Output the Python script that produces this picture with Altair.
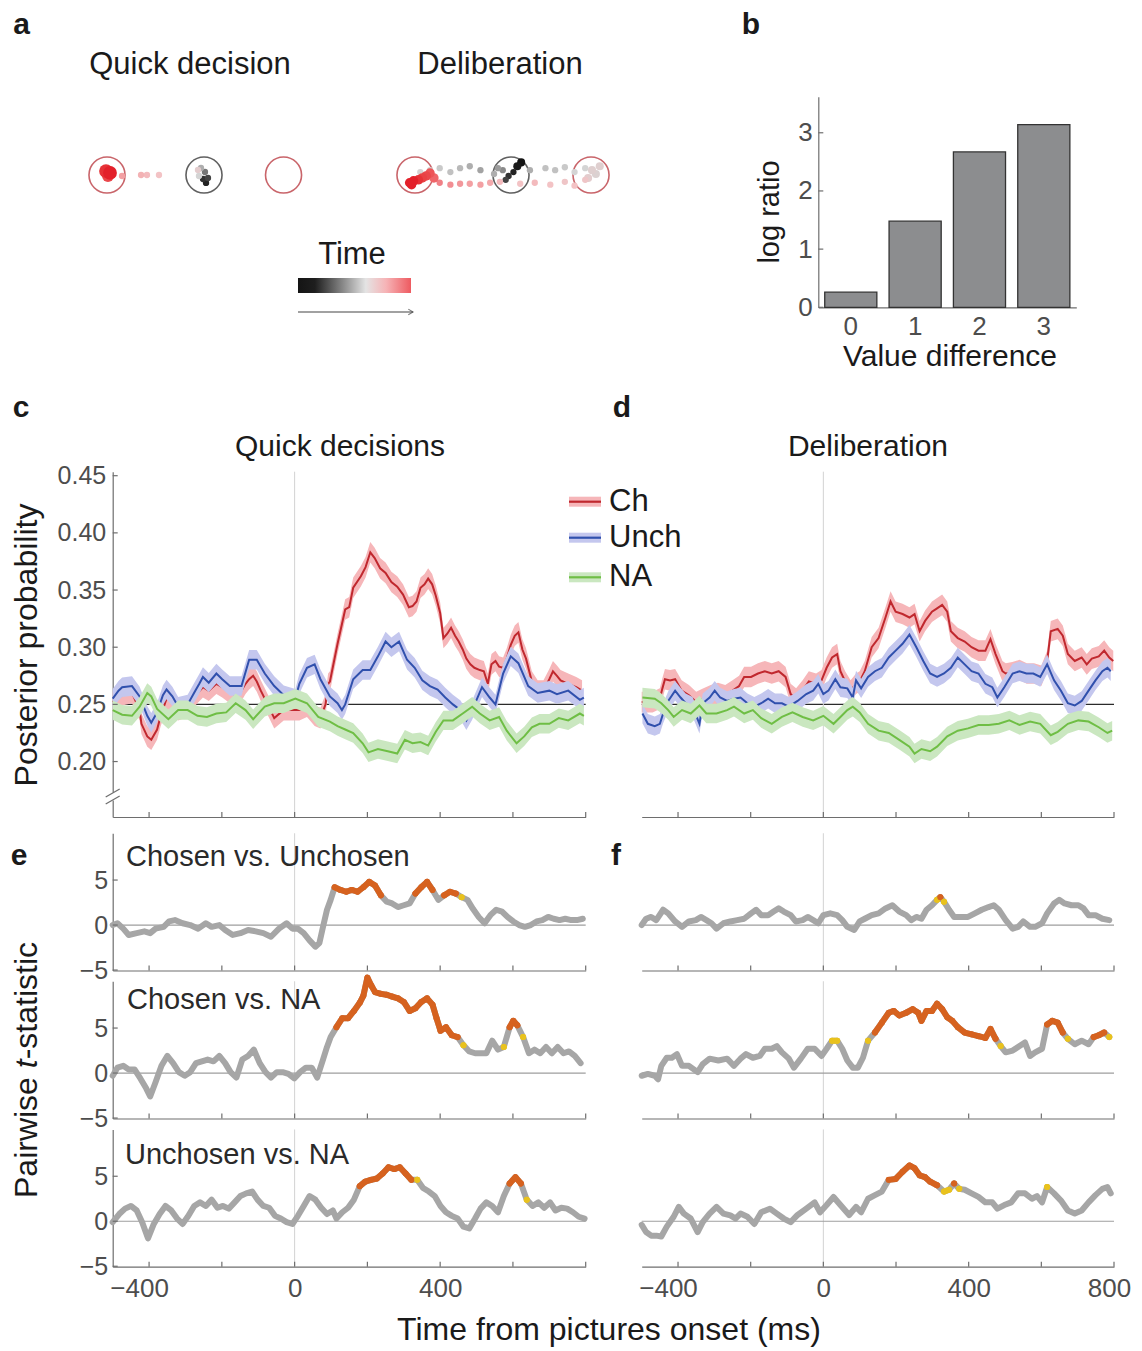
import altair as alt
import pandas as pd

FONT = "Liberation Sans"
INK = "#1a1a1a"
LBL = "#4d4d4d"
DOM = "#6e6e6e"

# ------------------------------------------------------------------ panel a (gaze traces)
target_u = [0.0, 1.0, 1.82, 3.175, 4.165, 4.99]
target_v = [0.0, 0.0, 0.0, 0.0, 0.0, 0.0]
target_kind = ["option", "fixation", "option", "option", "fixation", "option"]

gaze_u = [0.948, 0.969, 1.010, 1.041, 1.021, 0.990, 0.938, 0.536, 0.412, 0.351, 0.155, 0.031, -0.010, 0.010,
          4.19, 4.23, 4.27, 4.14, 4.11, 4.08, 4.03, 3.99,
          4.36, 4.52, 4.62, 4.72, 4.82, 4.93, 5.00, 5.04, 5.08, 4.96,
          3.85, 3.74, 3.64, 3.54, 3.43, 3.33, 3.23,
          3.43, 3.54, 3.64, 3.74, 3.85, 3.95, 4.05, 4.26, 4.41, 4.57, 4.72, 4.82, 4.93,
          3.12, 3.16, 3.21, 3.25, 3.29, 3.33, 3.37, 3.14]
gaze_v = [-0.010, 0.072, 0.031, -0.031, -0.082, -0.041, 0.052, 0.0, 0.0, 0.0, -0.010, 0.021, 0.041, -0.010,
          0.03, 0.09, 0.13, -0.01, -0.05, 0.05, 0.07, 0.01,
          0.05, 0.07, 0.05, 0.08, 0.03, 0.07, 0.05, 0.01, 0.09, -0.03,
          0.05, 0.09, 0.07, 0.03, 0.07, 0.05, 0.03,
          -0.08, -0.10, -0.09, -0.09, -0.10, -0.08, -0.07, -0.09, -0.08, -0.10, -0.07, -0.11, -0.05,
          -0.08, -0.06, -0.05, -0.03, -0.01, 0.02, -0.03, -0.10]
gaze_time = [0.55, 0.45, 0.3, 0.15, 0.05, 0.1, 0.62, 0.7, 0.72, 0.74, 0.78, 1.0, 0.98, 0.95,
             0.05, 0.02, 0.0, 0.1, 0.15, 0.35, 0.4, 0.45,
             0.45, 0.5, 0.5, 0.52, 0.55, 0.55, 0.6, 0.58, 0.6, 0.62,
             0.42, 0.45, 0.48, 0.5, 0.52, 0.55, 0.56,
             0.85, 0.82, 0.8, 0.78, 0.78, 0.76, 0.72, 0.7, 0.72, 0.7, 0.68, 0.7, 0.68,
             1.0, 1.0, 0.98, 0.96, 0.95, 0.93, 0.9, 1.0]
gaze_dwell = [1, 1, 1, 1, 1, 1, 1, 1, 1, 1, 1, 4, 4, 3,
              1, 1.5, 1.5, 1, 1, 1, 1, 1,
              1, 1, 1, 1, 1, 1, 1.5, 1.5, 1.5, 1.5,
              1, 1, 1, 1, 1, 1, 1,
              1, 1, 1, 1, 1, 1, 1, 1, 1, 1, 1, 1, 1,
              2, 2, 2, 2, 2, 2, 2, 2]
time_bar_u = [1.969, 3.134]
time_bar_v = [-1.062, -1.216]
time_arrow_u = [1.969, 3.155]
time_arrow_v = -1.412

# ------------------------------------------------------------------ panel b
b_value_diff = ["0", "1", "2", "3"]
b_log_ratio = [0.26, 1.48, 2.67, 3.14]

# ------------------------------------------------------------------ panel c (quick decisions)
c_ch_t = [-500, -474, -447, -426, -421, -405, -394, -378, -368, -352, -336, -320, -294, -273, -252, -236, -215, -199,
          -178, -162, -146, -135, -125, -114, -104, -93, -82, -56, -30, 2, 13, 34, 55, 71, 85, 92, 97, 118, 139, 150,
          161, 182, 195, 208, 220, 235, 250, 266, 282, 298, 314, 324, 335, 346, 357, 367, 378, 388, 400, 409, 420,
          430, 441, 451, 462, 472, 483, 494, 509, 520, 531, 541, 552, 562, 573, 583, 594, 605, 615, 626, 636, 652,
          668, 684, 700, 710, 721, 731, 752, 774, 790]
c_ch_v = [0.252, 0.258, 0.26, 0.245, 0.233, 0.222, 0.219, 0.228, 0.24, 0.255, 0.253, 0.245, 0.248, 0.258, 0.265,
          0.262, 0.268, 0.265, 0.26, 0.258, 0.262, 0.268, 0.272, 0.275, 0.27, 0.262, 0.255, 0.238, 0.245, 0.245,
          0.245, 0.248, 0.24, 0.238, 0.25, 0.268, 0.27, 0.303, 0.333, 0.335, 0.352, 0.362, 0.37, 0.383, 0.378,
          0.369, 0.365, 0.357, 0.353, 0.346, 0.335, 0.336, 0.34, 0.352, 0.355, 0.36, 0.355, 0.345, 0.33, 0.308,
          0.312, 0.317, 0.31, 0.305, 0.298, 0.29, 0.285, 0.282, 0.28, 0.279, 0.268, 0.285, 0.288, 0.283, 0.282,
          0.29, 0.302, 0.31, 0.313, 0.298, 0.29, 0.27, 0.262, 0.262, 0.272, 0.279, 0.275, 0.271, 0.268, 0.265, 0.262]
c_un_t = [-500, -484, -474, -447, -426, -405, -394, -378, -362, -352, -336, -320, -294, -273, -262, -252, -236, -215,
          -199, -178, -146, -125, -104, -82, -56, -30, 2, 13, 34, 55, 71, 97, 118, 130, 139, 161, 187, 208, 229, 250,
          266, 287, 309, 330, 351, 372, 393, 414, 435, 456, 472, 488, 515, 536, 552, 573, 594, 615, 642, 668, 700,
          721, 752, 784, 795]
c_un_v = [0.255, 0.262, 0.265, 0.266, 0.257, 0.24, 0.234, 0.243, 0.258, 0.263, 0.257, 0.248, 0.25, 0.262, 0.268,
          0.274, 0.269, 0.277, 0.272, 0.266, 0.266, 0.289, 0.289, 0.277, 0.266, 0.258, 0.255, 0.268, 0.282, 0.285,
          0.272, 0.257, 0.251, 0.245, 0.25, 0.272, 0.28, 0.28, 0.292, 0.305, 0.3, 0.305, 0.289, 0.282, 0.271, 0.266,
          0.263, 0.256, 0.25, 0.245, 0.236, 0.245, 0.265, 0.256, 0.25, 0.277, 0.292, 0.286, 0.266, 0.26, 0.262,
          0.259, 0.262, 0.254, 0.256]
c_na_t = [-500, -474, -447, -426, -405, -394, -378, -347, -320, -294, -267, -241, -215, -188, -162, -135, -114, -82,
          -56, -30, 2, 34, 65, 97, 118, 139, 161, 187, 203, 229, 256, 282, 303, 324, 346, 367, 388, 409, 435, 462,
          488, 509, 536, 562, 583, 610, 631, 652, 673, 700, 726, 752, 784, 795]
c_na_v = [0.245, 0.241, 0.240, 0.248, 0.26, 0.257, 0.246, 0.237, 0.245, 0.245, 0.24, 0.239, 0.242, 0.243, 0.251,
          0.245, 0.237, 0.248, 0.251, 0.251, 0.255, 0.251, 0.239, 0.235, 0.231, 0.228, 0.225, 0.216, 0.208, 0.211,
          0.209, 0.207, 0.219, 0.216, 0.217, 0.214, 0.226, 0.236, 0.236, 0.242, 0.248, 0.242, 0.236, 0.239, 0.227,
          0.216, 0.222, 0.23, 0.233, 0.233, 0.238, 0.236, 0.242, 0.24]

# ------------------------------------------------------------------ panel d (deliberation)
d_ch_t = [-500, -470, -450, -443, -436, -422, -408, -390, -370, -350, -330, -310, -290, -270, -250, -232, -218, -199,
          -180, -161, -142, -123, -104, -90, -75, -57, -40, -20, -5, 9, 24, 38, 47, 60, 75, 90, 100, 114, 133, 152,
          171, 185, 199, 218, 237, 251, 265, 280, 299, 313, 327, 341, 351, 370, 389, 408, 427, 446, 460, 474, 493,
          502, 520, 540, 560, 580, 600, 616, 626, 645, 659, 673, 692, 711, 725, 739, 758, 773, 787, 798]
d_ch_v = [0.252, 0.252, 0.255, 0.264, 0.272, 0.271, 0.272, 0.262, 0.258, 0.252, 0.255, 0.258, 0.26, 0.258, 0.262,
          0.266, 0.274, 0.274, 0.277, 0.279, 0.277, 0.279, 0.274, 0.259, 0.255, 0.262, 0.27, 0.268, 0.271, 0.282,
          0.291, 0.294, 0.279, 0.27, 0.262, 0.268, 0.27, 0.279, 0.3, 0.308, 0.326, 0.34, 0.331, 0.329, 0.326, 0.329,
          0.314, 0.323, 0.331, 0.334, 0.337, 0.331, 0.314, 0.308, 0.305, 0.3, 0.297, 0.297, 0.307, 0.294, 0.279,
          0.277, 0.278, 0.28, 0.277, 0.277, 0.275, 0.288, 0.314, 0.316, 0.31, 0.294, 0.288, 0.291, 0.285, 0.29,
          0.292, 0.297, 0.291, 0.288]
d_un_t = [-498, -483, -464, -450, -441, -427, -408, -393, -379, -360, -341, -332, -313, -299, -284, -265, -246, -228,
          -209, -190, -171, -152, -133, -114, -95, -71, -47, -28, -14, 0, 14, 33, 47, 66, 81, 90, 104, 123, 142, 161,
          180, 199, 218, 237, 256, 275, 294, 313, 332, 351, 370, 389, 408, 427, 446, 465, 479, 498, 521, 540, 559,
          578, 597, 616, 635, 654, 673, 692, 711, 730, 749, 768, 782, 791]
d_un_v = [0.242, 0.233, 0.231, 0.233, 0.242, 0.253, 0.262, 0.256, 0.251, 0.248, 0.233, 0.251, 0.256, 0.262, 0.256,
          0.253, 0.255, 0.256, 0.251, 0.248, 0.251, 0.255, 0.251, 0.251, 0.248, 0.253, 0.259, 0.262, 0.268, 0.259,
          0.262, 0.272, 0.265, 0.264, 0.256, 0.271, 0.264, 0.274, 0.279, 0.282, 0.291, 0.297, 0.303, 0.311, 0.3,
          0.288, 0.277, 0.274, 0.277, 0.282, 0.291, 0.285, 0.279, 0.277, 0.268, 0.265, 0.256, 0.265, 0.277, 0.279,
          0.277, 0.277, 0.274, 0.285, 0.271, 0.262, 0.251, 0.249, 0.253, 0.262, 0.271, 0.279, 0.282, 0.279]
d_na_t = [-498, -464, -446, -427, -412, -389, -365, -341, -322, -294, -265, -246, -218, -194, -171, -142, -114, -85,
          -57, -28, 0, 28, 47, 66, 81, 100, 123, 152, 180, 209, 237, 251, 270, 294, 313, 341, 370, 398, 427, 455,
          483, 512, 540, 569, 597, 626, 645, 673, 702, 730, 758, 782, 795]
d_na_v = [0.256, 0.255, 0.251, 0.245, 0.239, 0.245, 0.242, 0.249, 0.242, 0.242, 0.245, 0.248, 0.242, 0.245, 0.238,
          0.233, 0.239, 0.243, 0.239, 0.236, 0.24, 0.233, 0.239, 0.245, 0.248, 0.243, 0.233, 0.227, 0.225, 0.219,
          0.213, 0.207, 0.211, 0.209, 0.213, 0.222, 0.227, 0.229, 0.232, 0.232, 0.233, 0.236, 0.232, 0.235, 0.233,
          0.223, 0.226, 0.233, 0.236, 0.235, 0.23, 0.225, 0.227]

ch_half_ci = 0.009
un_half_ci = 0.0085
na_half_ci = 0.0085

# ------------------------------------------------------------------ panels e / f (pairwise t)
e1_t = [-500, -487, -471, -456, -434, -413, -397, -382, -360, -345, -329, -308, -287, -265, -244, -228, -207, -191,
        -170, -149, -128, -107, -86, -65, -43, -22, -6, 9, 25, 41, 57, 68, 78, 89, 99, 110, 126, 142, 157, 173, 189,
        205, 221, 237, 253, 268, 284, 300, 316, 332, 348, 364, 379, 395, 411, 427, 443, 459, 475, 490, 506, 522,
        538, 554, 570, 585, 601, 617, 633, 649, 665, 681, 697, 712, 728, 744, 760, 776, 792]
e1_v = [0, 0.2, -0.4, -1.1, -0.9, -0.7, -0.9, -0.4, -0.2, 0.4, 0.55, 0.2, 0, -0.4, 0.2, -0.2, 0, -0.55, -1.1, -0.9,
        -0.55, -0.7, -0.9, -1.3, -0.4, 0.2, -0.4, -0.4, -0.9, -1.7, -2.4, -2.0, -0.2, 1.7, 2.8, 4.2, 3.9, 3.7, 3.9,
        3.7, 4.2, 4.8, 4.4, 3.3, 2.6, 2.4, 2.0, 2.2, 2.4, 3.5, 4.2, 4.8, 3.9, 2.8, 3.3, 3.7, 3.5, 3.1, 2.8, 1.8, 0.9,
        0.2, 1.1, 1.7, 1.5, 0.9, 0.4, 0, -0.2, 0, 0.4, 0.55, 0.9, 0.7, 0.55, 0.7, 0.55, 0.55, 0.7]
e1_sig = [(100, 240), (330, 392), (410, 455)]
e1_marginal = [(456, 472)]

e2_t = [-500, -487, -471, -456, -440, -424, -408, -397, -382, -366, -350, -334, -318, -302, -287, -271, -255, -239,
        -223, -207, -191, -176, -160, -144, -128, -112, -96, -80, -65, -49, -33, -17, -1, 15, 31, 47, 62, 78, 89, 99,
        115, 131, 147, 163, 179, 189, 200, 211, 221, 237, 253, 268, 284, 300, 316, 332, 348, 364, 379, 390, 401, 416,
        432, 448, 464, 480, 496, 511, 527, 543, 559, 575, 591, 601, 612, 628, 644, 659, 675, 691, 707, 723, 739, 754,
        770, 786]
e2_v = [-0.3, 0.6, 0.8, 0.4, 0.4, -0.6, -1.7, -2.6, -1.0, 0.8, 1.9, 1.1, 0.1, -0.3, 0.1, 1.1, 1.3, 1.5, 1.3, 1.9, 1.1,
        0.1, -0.5, 1.5, 1.9, 2.6, 1.1, 0.1, -0.5, 0.1, 0.1, -0.1, -0.6, 0.1, 0.6, 0.6, -0.5, 1.5, 2.9, 4.0, 5.1, 6.1,
        6.1, 6.9, 7.8, 8.6, 10.6, 9.7, 9.0, 8.8, 8.7, 8.5, 8.3, 7.9, 6.9, 7.2, 7.9, 8.3, 7.6, 6.1, 4.7, 5.1, 4.2, 4.0,
        3.1, 2.4, 2.2, 2.2, 2.2, 3.6, 2.6, 2.9, 5.1, 5.8, 5.3, 4.0, 2.2, 2.6, 2.2, 2.9, 2.2, 2.9, 2.2, 2.4, 1.9, 1.1]
e2_sig = [(100, 455), (585, 625)]
e2_marginal = [(456, 470), (575, 584), (626, 640)]

e3_t = [-500, -482, -466, -450, -434, -419, -403, -387, -371, -355, -339, -323, -308, -292, -276, -260, -244, -228,
        -212, -197, -181, -165, -149, -133, -117, -102, -86, -70, -54, -38, -22, -6, 9, 25, 41, 57, 73, 89, 105, 115,
        131, 147, 163, 179, 194, 210, 226, 242, 258, 274, 289, 305, 321, 337, 353, 369, 385, 401, 416, 432, 448, 464,
        480, 496, 511, 527, 543, 559, 575, 591, 607, 622, 638, 654, 670, 686, 702, 717, 733, 749, 765, 781, 797]
e3_v = [-0.1, 0.8, 1.4, 1.7, 1.2, -0.1, -1.9, -0.3, 0.8, 1.7, 1.2, 0.3, -0.3, 0.6, 1.7, 2.1, 1.7, 2.4, 1.5, 1.7, 1.4,
        2.1, 2.8, 3.1, 3.3, 2.4, 1.7, 1.5, 0.6, 0.3, -0.1, -0.3, 0.6, 1.7, 2.8, 2.4, 1.5, 0.8, 1.2, 0.3, 1.0, 1.5, 2.4,
        3.9, 4.4, 4.6, 4.75, 5.3, 6.0, 5.8, 6.0, 5.3, 4.6, 4.6, 3.7, 3.3, 2.8, 1.7, 1.0, 0.6, 0.3, -0.6, -0.8, 0.3,
        1.4, 2.1, 1.7, 1.0, 2.8, 4.2, 4.9, 4.2, 2.4, 1.7, 2.1, 1.5, 2.1, 1.2, 1.5, 1.4, 1.0, 0.5, 0.3]
e3_sig = [(175, 330), (588, 624)]
e3_marginal = [(331, 340), (625, 640)]

f1_t = [-500, -488, -474, -460, -441, -427, -408, -389, -370, -351, -337, -322, -308, -294, -275, -256, -237, -218,
        -199, -185, -171, -152, -137, -123, -109, -90, -76, -57, -43, -28, -14, 0, 19, 38, 52, 66, 85, 100, 114, 133,
        152, 171, 190, 209, 228, 242, 256, 270, 284, 299, 313, 322, 332, 346, 360, 379, 398, 417, 436, 455, 469, 483,
        502, 521, 536, 550, 569, 583, 602, 616, 635, 649, 664, 683, 702, 716, 730, 749, 768, 787]
f1_v = [0, 0.7, 0.9, 0.55, 1.7, 1.3, 0.4, -0.2, 0.4, 0.55, 0.9, 0.55, 0.2, -0.4, 0.2, 0.4, 0.55, 0.7, 1.3, 1.7, 1.1,
        1.1, 1.5, 1.85, 1.5, 1.1, 0.4, 0.55, 0.9, 0.55, 0.2, 1.1, 1.3, 1.1, 0.55, -0.2, -0.55, 0.4, 0.7, 1.1, 1.3,
        1.85, 2.2, 1.5, 1.1, 0.55, 0.9, 0.7, 1.7, 2.2, 2.8, 3.1, 2.6, 1.7, 0.9, 0.9, 0.9, 1.3, 1.7, 2.0, 2.2, 1.7,
        0.55, -0.4, -0.2, 0.4, -0.2, -0.2, 0.2, 1.3, 2.4, 2.8, 2.4, 2.2, 2.2, 1.85, 1.1, 1.1, 0.7, 0.55]
f1_sig = [(318, 326)]
f1_marginal = [(310, 335)]

f2_t = [-500, -483, -464, -455, -446, -431, -417, -403, -389, -370, -346, -332, -313, -289, -265, -246, -228, -213,
        -194, -175, -161, -142, -128, -114, -95, -81, -62, -43, -24, -5, 9, 24, 38, 52, 66, 81, 95, 109, 123, 142, 161,
        180, 194, 209, 228, 246, 261, 270, 284, 299, 313, 327, 341, 355, 370, 389, 408, 427, 446, 460, 474, 488, 502,
        521, 540, 555, 569, 583, 602, 616, 630, 645, 659, 673, 692, 711, 730, 744, 758, 773, 787]
f2_v = [-0.3, -0.1, -0.3, -0.7, 0.8, 1.7, 1.7, 2.1, 0.8, 0.8, 0.1, 1.0, 1.6, 1.4, 1.6, 0.8, 1.6, 2.1, 1.7, 1.9, 2.7,
        2.7, 3.0, 2.3, 1.6, 0.6, 1.6, 2.7, 2.7, 1.9, 2.7, 3.6, 3.6, 2.7, 1.4, 0.6, 0.6, 1.7, 3.6, 4.5, 5.6, 6.7, 6.9,
        6.4, 6.7, 7.1, 6.7, 5.8, 6.9, 6.9, 7.7, 7.1, 6.2, 5.8, 5.1, 4.5, 4.3, 4.1, 3.9, 4.9, 3.8, 3.0, 2.3, 2.5, 3.0,
        3.4, 1.9, 2.3, 2.7, 5.4, 5.8, 5.6, 4.5, 3.8, 3.2, 3.6, 3.2, 4.0, 4.2, 4.5, 4.0]
f2_sig = [(130, 480), (616, 660), (740, 780)]
f2_marginal = [(20, 40), (118, 129), (481, 490), (661, 675), (781, 800)]

f3_t = [-500, -488, -474, -460, -446, -431, -412, -398, -384, -365, -346, -332, -313, -294, -275, -256, -242, -228,
        -209, -190, -171, -147, -128, -109, -90, -71, -47, -24, -9, 9, 28, 47, 71, 90, 104, 123, 142, 161, 180, 199,
        218, 237, 251, 265, 280, 294, 313, 332, 346, 360, 374, 389, 408, 427, 446, 465, 479, 498, 517, 536, 555, 574,
        588, 602, 616, 635, 654, 673, 692, 711, 730, 749, 768, 782, 791]
f3_v = [-0.4, -1.2, -1.6, -1.6, -1.7, -0.6, 0.5, 1.6, 0.85, 0.3, -1.2, -0.1, 0.85, 1.6, 0.85, 0.65, 0.3, 0.85, 0.5,
        -0.3, 1.0, 1.4, 0.85, 0.3, -0.1, 0.7, 1.4, 2.1, 1.0, 1.8, 2.7, 1.8, 0.7, 1.6, 1.0, 2.5, 2.9, 3.3, 4.6, 4.7,
        5.5, 6.2, 5.9, 5.1, 4.9, 4.4, 4.0, 3.3, 3.5, 4.2, 3.6, 3.5, 3.1, 2.7, 2.1, 2.1, 1.4, 1.8, 2.1, 3.1, 3.1, 2.5,
        2.8, 2.1, 3.8, 3.1, 2.3, 1.2, 0.85, 1.2, 2.1, 2.9, 3.6, 3.8, 3.1]
f3_sig = [(170, 320), (355, 365)]
f3_marginal = [(321, 335), (345, 375), (612, 620)]

time_ticks = [-400, -200, 0, 200, 400, 600, 800]
prob_ticks = [0.20, 0.25, 0.30, 0.35, 0.40, 0.45]
t_ticks = [-5, 0, 5]
b_ticks = [0, 1, 2, 3]

# ------------------------------------------------------------------ layout (pixel ranges inside one canvas)
W, H = 1126, 1343
PA_X = [99.0, 584.0]
PA_Y = [312.5, 50.6]
B_X = [810.3, 1068.3]
B_Y = [299.3, 88.7]
C_X = [104.7, 577.7]
D_X = [633.7, 1106.0]
CD_Y = [809.0, 463.7]
CD_DOMAIN = [0.1515, 0.4535]
EF_Y = [[962.5, 825.25], [1110.5, 973.25], [1258.7, 1121.45]]

RED, RED_BAND = "#c0282e", "#f6b6b9"
BLUE, BLUE_BAND = "#3050ad", "#c4c7ee"
GREEN, GREEN_BAND = "#6fbe45", "#cae7c0"
TGRAY, TORANGE, TYELLOW = "#a6a6a6", "#d6621f", "#e9c21d"


def one(**kw):
    return pd.DataFrame({k: [v] for k, v in kw.items()})


def label(text, x, y, size, weight="normal", align="center", baseline="middle", angle=0,
          style="normal", color=INK):
    return alt.Chart(one(s=text)).mark_text(
        font=FONT, fontSize=size, fontWeight=weight, fontStyle=style, align=align,
        baseline=baseline, angle=angle, color=color
    ).encode(text="s:N", x=alt.value(x), y=alt.value(y))


def seg(x1, y1, x2, y2, color, width):
    return alt.Chart(one(k=0)).mark_rule(color=color, strokeWidth=width).encode(
        x=alt.value(x1), y=alt.value(y1), x2=alt.value(x2), y2=alt.value(y2))


def bottom_axis(y_px, **kw):
    return alt.Axis(orient="bottom", offset=y_px - H, title=None, grid=False, ticks=False, **kw)


def left_axis(x_px, **kw):
    return alt.Axis(orient="left", offset=-x_px, title=None, grid=False, ticks=False, **kw)


# ---------------- panel a
sa_x = alt.Scale(domain=[0, 5], range=PA_X, nice=False, zero=False)
sa_y = alt.Scale(domain=[-1.5, 1.2], range=PA_Y, nice=False, zero=False)
time_colors = alt.Scale(domain=[0, 0.35, 0.55, 0.7, 0.85, 1.0],
                        range=["#141414", "#8a8a8a", "#d4d4d4", "#f3c3c5", "#f08086", "#e3202a"])
ax = lambda f: alt.X(f"{f}:Q", scale=sa_x, axis=None)
ay = lambda f: alt.Y(f"{f}:Q", scale=sa_y, axis=None)

df_targets = pd.DataFrame({"u": target_u, "v": target_v, "kind": target_kind})
df_gaze = pd.DataFrame({"u": gaze_u, "v": gaze_v, "time": gaze_time, "dwell": gaze_dwell}).sort_values("time")

a_targets = alt.Chart(df_targets).mark_point(shape="circle", size=1300, filled=False, strokeWidth=1.6).encode(
    x=ax("u"), y=ay("v"),
    color=alt.Color("kind:N", scale=alt.Scale(domain=["option", "fixation"], range=["#b3242c", "#1e1e1e"]),
                    legend=None))
a_gaze = alt.Chart(df_gaze).mark_circle(opacity=1).encode(
    x=ax("u"), y=ay("v"),
    color=alt.Color("time:Q", scale=time_colors, legend=None),
    size=alt.Size("dwell:Q", scale=alt.Scale(domain=[1, 4], range=[40, 190]), legend=None),
    order=alt.Order("time:Q"))
grad = alt.LinearGradient(gradient="linear", x1=0, x2=1, y1=0, y2=0, stops=[
    alt.GradientStop(color="#141414", offset=0), alt.GradientStop(color="#1e1e1e", offset=0.15),
    alt.GradientStop(color="#8a8a8a", offset=0.4), alt.GradientStop(color="#e4e4e4", offset=0.6),
    alt.GradientStop(color="#f6b3b6", offset=0.78), alt.GradientStop(color="#ee5a60", offset=1)])
a_bar = alt.Chart(one(u0=time_bar_u[0], u1=time_bar_u[1], v0=time_bar_v[0], v1=time_bar_v[1])).mark_rect(
    fill=grad).encode(x=ax("u0"), x2="u1", y=ay("v0"), y2="v1")
a_arrow = alt.Chart(one(u0=time_arrow_u[0], u1=time_arrow_u[1], v=time_arrow_v)).mark_rule(
    color="#444", strokeWidth=1.1).encode(x=ax("u0"), x2="u1", y=ay("v"))
a_head = alt.Chart(one(u=time_arrow_u[1], v=time_arrow_v)).mark_point(
    shape="M-1,-0.6L0,0L-1,0.6", filled=False, size=90, strokeWidth=1.1, color="#444").encode(x=ax("u"), y=ay("v"))
panel_a = alt.layer(a_targets, a_gaze, a_bar, a_arrow, a_head).resolve_scale(color="independent")

# ---------------- panel b
sb_x = alt.Scale(domain=b_value_diff, range=B_X, paddingInner=0.19, paddingOuter=0.1)
sb_y = alt.Scale(domain=[0, 3.62], range=B_Y, nice=False)
bxa = bottom_axis(B_Y[0], labelAngle=0, labelPadding=6, labelFontSize=26)
bya = left_axis(B_X[0], values=b_ticks, labelPadding=6, labelFontSize=26)
b_bars = alt.Chart(pd.DataFrame({"diff": b_value_diff, "lr": b_log_ratio})).mark_bar(
    color="#8c8d8f", stroke="#333333", strokeWidth=1.3).encode(
    x=alt.X("diff:N", scale=sb_x, axis=bxa, sort=None), y=alt.Y("lr:Q", scale=sb_y, axis=bya))
b_ticks_l = alt.Chart(pd.DataFrame({"v": b_ticks})).mark_rule(color=DOM, strokeWidth=1.2).encode(
    x=alt.value(B_X[0]), x2=alt.value(B_X[0] + 5), y=alt.Y("v:Q", scale=sb_y, axis=bya))
panel_b = alt.layer(b_bars, b_ticks_l)


# ---------------- panels c / d
def prob_panel(series, xr, show_y):
    xs = alt.Scale(domain=[-500, 800], range=xr, nice=False, zero=False)
    ys = alt.Scale(domain=CD_DOMAIN, range=CD_Y, nice=False, zero=False)
    xa = bottom_axis(CD_Y[0], labels=False)
    ya = (left_axis(xr[0], values=prob_ticks, format=".2f", labelPadding=7, labelFontSize=25)
          if show_y else None)
    X = lambda f: alt.X(f"{f}:Q", scale=xs, axis=xa, title=None)
    Y = lambda f: alt.Y(f"{f}:Q", scale=ys, axis=ya, title=None)
    layers = [
        alt.Chart(one(t0=-500, t1=800, v=0.25)).mark_rule(color="#2b2b2b", strokeWidth=1.2).encode(
            x=X("t0"), x2="t1", y=Y("v")),
        alt.Chart(one(t=0)).mark_rule(color="#d2d2d2", strokeWidth=1).encode(
            x=X("t"), y=alt.value(CD_Y[1]), y2=alt.value(CD_Y[0])),
    ]
    for times, vals, hw, lc, bc in series:
        df = pd.DataFrame({"t": times, "v": vals})
        layers.append(alt.Chart(df).transform_calculate(lo=f"datum.v - {hw}", hi=f"datum.v + {hw}")
                      .mark_area(color=bc, opacity=1).encode(x=X("t"), y=Y("lo"), y2="hi"))
        layers.append(alt.Chart(df).mark_line(color=lc, strokeWidth=2).encode(x=X("t"), y=Y("v")))
    layers.append(alt.Chart(pd.DataFrame({"t": time_ticks})).mark_rule(color=DOM, strokeWidth=1.2).encode(
        x=X("t"), y=alt.value(CD_Y[0]), y2=alt.value(CD_Y[0] - 5)))
    if show_y:
        layers.append(alt.Chart(pd.DataFrame({"v": prob_ticks})).mark_rule(color=DOM, strokeWidth=1.2).encode(
            x=alt.value(xr[0]), x2=alt.value(xr[0] + 5), y=Y("v")))
        x0 = xr[0]
        layers.append(seg(x0, 784.5, x0, 792.5, "white", 5))
        layers.append(seg(x0 - 7, 789, x0 + 7, 781, DOM, 1.3))
        layers.append(seg(x0 - 7, 796, x0 + 7, 788, DOM, 1.3))
    return alt.layer(*layers)


panel_c = prob_panel([(c_ch_t, c_ch_v, ch_half_ci, RED, RED_BAND),
                      (c_un_t, c_un_v, un_half_ci, BLUE, BLUE_BAND),
                      (c_na_t, c_na_v, na_half_ci, GREEN, GREEN_BAND)], C_X, True)
panel_d = prob_panel([(d_ch_t, d_ch_v, ch_half_ci, RED, RED_BAND),
                      (d_un_t, d_un_v, un_half_ci, BLUE, BLUE_BAND),
                      (d_na_t, d_na_v, na_half_ci, GREEN, GREEN_BAND)], D_X, False)


# ---------------- panels e / f
def t_panel(times, vals, sig, marginal, xr, yr, show_y, label_values):
    xs = alt.Scale(domain=[-500, 800], range=xr, nice=False, zero=False)
    ys = alt.Scale(domain=[-5.05, 10.2], range=yr, nice=False, zero=False)
    if label_values:
        xa = bottom_axis(yr[0], values=label_values, labelPadding=9, labelFontSize=26, labelFlush=False,
                         labelOverlap=False,
                         labelOffset={"condition": [{"test": "datum.value < 0", "value": -10},
                                                    {"test": "datum.value >= 800", "value": -5}],
                                      "value": 0})
    else:
        xa = bottom_axis(yr[0], labels=False)
    ya = left_axis(xr[0], values=t_ticks, labelPadding=5, labelFontSize=25) if show_y else None
    X = lambda f: alt.X(f"{f}:Q", scale=xs, axis=xa, title=None)
    Y = lambda f: alt.Y(f"{f}:Q", scale=ys, axis=ya, title=None)

    df = pd.DataFrame({"t": times, "v": vals})

    def level(t):
        if any(a <= t <= b for a, b in sig):
            return TORANGE
        if any(a <= t <= b for a, b in marginal):
            return TYELLOW
        return TGRAY
    df["col"] = [level(t) for t in df["t"]]
    df["run"] = (df["col"] != df["col"].shift()).cumsum()
    sdf = df[df["col"] != TGRAY]

    layers = [
        alt.Chart(one(t=0)).mark_rule(color="#d2d2d2", strokeWidth=1).encode(
            x=X("t"), y=alt.value(yr[1]), y2=alt.value(yr[0])),
        alt.Chart(one(t0=-500, t1=800, v=0)).mark_rule(color="#9e9e9e", strokeWidth=1.2).encode(
            x=X("t0"), x2="t1", y=Y("v")),
        alt.Chart(pd.DataFrame({"t": time_ticks})).mark_rule(color=DOM, strokeWidth=1.2).encode(
            x=X("t"), y=alt.value(yr[0]), y2=alt.value(yr[0] - 5)),
        alt.Chart(df).mark_line(color=TGRAY, strokeWidth=6, strokeCap="round", strokeJoin="round").encode(
            x=X("t"), y=Y("v")),
        alt.Chart(sdf).mark_line(strokeWidth=6, strokeCap="round", strokeJoin="round").encode(
            x=X("t"), y=Y("v"), color=alt.Color("col:N", scale=None), detail="run:N"),
        alt.Chart(sdf).mark_circle(size=36, opacity=1).encode(
            x=X("t"), y=Y("v"), color=alt.Color("col:N", scale=None)),
    ]
    if show_y:
        layers.append(alt.Chart(pd.DataFrame({"v": t_ticks})).mark_rule(color=DOM, strokeWidth=1.2).encode(
            x=alt.value(xr[0]), x2=alt.value(xr[0] + 5), y=Y("v")))
    return alt.layer(*layers)


panel_e1 = t_panel(e1_t, e1_v, e1_sig, e1_marginal, C_X, EF_Y[0], True, None)
panel_e2 = t_panel(e2_t, e2_v, e2_sig, e2_marginal, C_X, EF_Y[1], True, None)
panel_e3 = t_panel(e3_t, e3_v, e3_sig, e3_marginal, C_X, EF_Y[2], True, [-400, 0, 400])
panel_f1 = t_panel(f1_t, f1_v, f1_sig, f1_marginal, D_X, EF_Y[0], False, None)
panel_f2 = t_panel(f2_t, f2_v, f2_sig, f2_marginal, D_X, EF_Y[1], False, None)
panel_f3 = t_panel(f3_t, f3_v, f3_sig, f3_marginal, D_X, EF_Y[2], False, [-400, 0, 400, 800])

# ---------------- text
texts = [
    label("a", 13.5, 26, 30, weight="bold", baseline="alphabetic"),
    label("b", 743, 26, 30, weight="bold", baseline="alphabetic"),
    label("c", 13, 409, 30, weight="bold", baseline="alphabetic"),
    label("d", 614, 409, 30, weight="bold", baseline="alphabetic"),
    label("e", 11, 857, 30, weight="bold", baseline="alphabetic"),
    label("f", 608, 857, 30, weight="bold", baseline="alphabetic"),
    label("Quick decision", 182, 57, 31),
    label("Deliberation", 492, 57, 31),
    label("Time", 344, 247, 31),
    label("log ratio", 762, 204, 29, angle=270),
    label("Value difference", 942, 349, 30),
    label("Quick decisions", 332, 439, 30),
    label("Deliberation", 860, 439, 30),
    label("Posterior probability", 19, 637, 32, angle=270),
    label("Pairwise", 19, 1190, 32, angle=270, align="left"),
    label("t", 19, 1060.2, 32, angle=270, align="left", style="italic"),
    label("-statistic", 19, 1051.3, 32, angle=270, align="left"),
    label("Time from pictures onset (ms)", 601, 1322, 32),
    label("Chosen vs. Unchosen", 118, 849, 29, align="left", color="#2a2a2a"),
    label("Chosen vs. NA", 119, 992, 29, align="left", color="#2a2a2a"),
    label("Unchosen vs. NA", 117, 1147, 29, align="left", color="#2a2a2a"),
]
legend_rows = [("Ch", RED, RED_BAND, 493.7), ("Unch", BLUE, BLUE_BAND, 529.7), ("NA", GREEN, GREEN_BAND, 569.3)]
for name, lc, bc, yy in legend_rows:
    texts.append(seg(561, yy, 593, yy, bc, 10))
    texts.append(seg(561, yy, 593, yy, lc, 2.2))
    texts.append(label(name, 601, yy, 31, align="left"))

chart = alt.layer(
    panel_a, panel_b, panel_c, panel_d, panel_e1, panel_e2, panel_e3, panel_f1, panel_f2, panel_f3, *texts
).resolve_scale(
    x="independent", y="independent", color="independent", size="independent"
).properties(
    width=W, height=H, padding=0, autosize=alt.AutoSizeParams(type="none")
).configure_view(stroke=None).configure_axis(
    labelFont=FONT, labelColor=LBL, domainColor=DOM, domainWidth=1.2, labelFontSize=25
)

chart.save("out.html", embed_options={"renderer": "svg", "actions": False})
